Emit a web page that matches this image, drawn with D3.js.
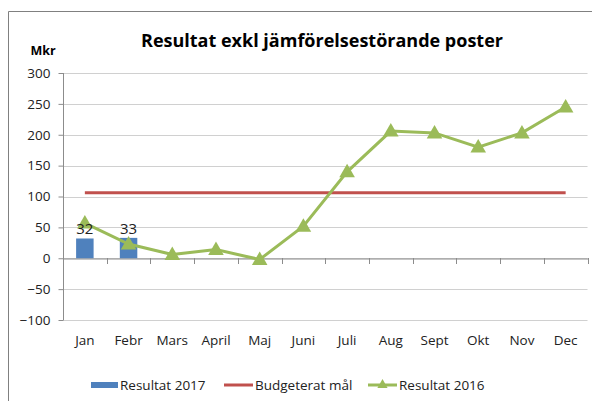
<!DOCTYPE html>
<html><head><meta charset="utf-8">
<script src="https://cdn.jsdelivr.net/npm/d3@7"></script>
<style>
html,body{margin:0;padding:0;background:#fff;}
svg{display:block;font-family:"Open Sans","Noto Sans",sans-serif;}
</style></head>
<body>
<svg id="c" width="592" height="401"></svg>
<script>
const months = ["Jan","Febr","Mars","April","Maj","Juni","Juli","Aug","Sept","Okt","Nov","Dec"];
const res2017 = [32, 33];
const budget = [106,106,106,106,106,106,106,106,106,106,106,106];
const res2016 = [57, 23, 6, 14, -2, 52, 140, 206, 203, 180, 203, 245];
const yTicks = [-100, -50, 0, 50, 100, 150, 200, 250, 300];

const svg = d3.select("#c");
const W = 592, H = 401;

// frame
svg.append("path").attr("d", `M8.5,${H}V11.5H${W}`).attr("fill","none").attr("stroke","#808080").attr("stroke-width",1);

const x = d3.scaleBand().domain(months).range([63, 587.5]).padding(0);
const y = d3.scaleLinear().domain([-100, 300]).range([320, 73]);

// gridlines
svg.append("g").selectAll("line").data(yTicks).join("line")
  .attr("x1", 63).attr("x2", 587.5)
  .attr("y1", d => Math.round(y(d)) + 0.5).attr("y2", d => Math.round(y(d)) + 0.5)
  .attr("stroke", "#d0d0d0").attr("stroke-width", 1.2);

// y axis
const yAxis = svg.append("g").attr("transform", "translate(63.5,0)")
  .call(d3.axisLeft(y).tickValues(yTicks).tickSize(5).tickPadding(8).tickFormat(d3.format("d")));
yAxis.select(".domain").attr("stroke", "#8c8c8c").attr("d", `M0,${y(300)}V${y(-100)}`);
yAxis.selectAll(".tick line").attr("stroke", "#8c8c8c");
yAxis.selectAll(".tick text").attr("font-size", 13.5).attr("fill", "#222").attr("font-family","'Open Sans',sans-serif");

// x axis at zero
const xAxis = svg.append("g").attr("transform", `translate(0,${Math.round(y(0))+0.5})`)
  .call(d3.axisBottom(x).tickSize(0).tickFormat(""));
xAxis.select(".domain").attr("stroke", "#8c8c8c");
xAxis.selectAll(".tick").remove();
// boundary tick marks
svg.append("g").selectAll("line").data(months).join("line")
  .attr("x1", d => Math.round(x(d) + x.bandwidth()) + 0.5)
  .attr("x2", d => Math.round(x(d) + x.bandwidth()) + 0.5)
  .attr("y1", Math.round(y(0))).attr("y2", Math.round(y(0)) + 6)
  .attr("stroke", "#8c8c8c");

// x labels
svg.append("g").selectAll("text").data(months).join("text")
  .attr("x", d => x(d) + x.bandwidth()/2).attr("y", 345)
  .attr("text-anchor","middle").attr("font-size", 13.5).attr("fill","#222").text(d => d);

// bars
const bw = x.bandwidth() * 0.4;
svg.append("g").selectAll("rect").data(res2017).join("rect")
  .attr("x", (d,i) => x(months[i]) + x.bandwidth()/2 - bw/2)
  .attr("y", d => y(d)).attr("width", bw).attr("height", d => y(0) - y(d))
  .attr("fill", "#4F81BD");

// budget line
svg.append("path").datum(budget)
  .attr("d", d3.line().x((d,i) => x(months[i]) + x.bandwidth()/2).y(d => y(d)))
  .attr("fill","none").attr("stroke","#C0504D").attr("stroke-width",3);

// res 2016 line
svg.append("path").datum(res2016)
  .attr("d", d3.line().x((d,i) => x(months[i]) + x.bandwidth()/2).y(d => y(d)))
  .attr("fill","none").attr("stroke","#9BBB59").attr("stroke-width",3);
const tri = d3.symbol().type(d3.symbolTriangle).size(105);
svg.append("g").selectAll("path").data(res2016).join("path")
  .attr("transform", (d,i) => `translate(${x(months[i]) + x.bandwidth()/2},${y(d)+1})`)
  .attr("d", tri).attr("fill","#9BBB59");

// bar labels
svg.append("g").selectAll("text").data(res2017).join("text")
  .attr("x", (d,i) => x(months[i]) + x.bandwidth()/2).attr("y", d => y(d) - 4)
  .attr("text-anchor","middle").attr("font-size", 15).attr("fill","#222").text(d => d);

// title
svg.append("text").attr("x", 322).attr("y", 47).attr("text-anchor","middle")
  .attr("font-size", 18).attr("font-weight","bold").attr("fill","#000")
  .text("Resultat exkl jämförelsestörande poster");
svg.append("text").attr("x", 43).attr("y", 55).attr("text-anchor","middle")
  .attr("font-size", 12.5).attr("font-weight","bold").attr("fill","#000").text("Mkr");

// legend
const lg = svg.append("g");
const ly = 385;
lg.append("rect").attr("x", 91).attr("y", ly-3).attr("width", 27).attr("height", 6).attr("fill","#4F81BD");
lg.append("text").attr("x", 120).attr("y", ly+4.5).attr("font-size", 13.5).attr("fill","#222").text("Resultat 2017");
lg.append("line").attr("x1", 224).attr("x2", 253).attr("y1", ly).attr("y2", ly).attr("stroke","#C0504D").attr("stroke-width",3);
lg.append("text").attr("x", 255).attr("y", ly+4.5).attr("font-size", 13.5).attr("fill","#222").text("Budgeterat mål");
lg.append("line").attr("x1", 368).attr("x2", 397).attr("y1", ly).attr("y2", ly).attr("stroke","#9BBB59").attr("stroke-width",3);
lg.append("path").attr("transform", `translate(382.5,${ly})`).attr("d", d3.symbol().type(d3.symbolTriangle).size(45)).attr("fill","#9BBB59");
lg.append("text").attr("x", 399).attr("y", ly+4.5).attr("font-size", 13.5).attr("fill","#222").text("Resultat 2016");
</script>
</body></html>
